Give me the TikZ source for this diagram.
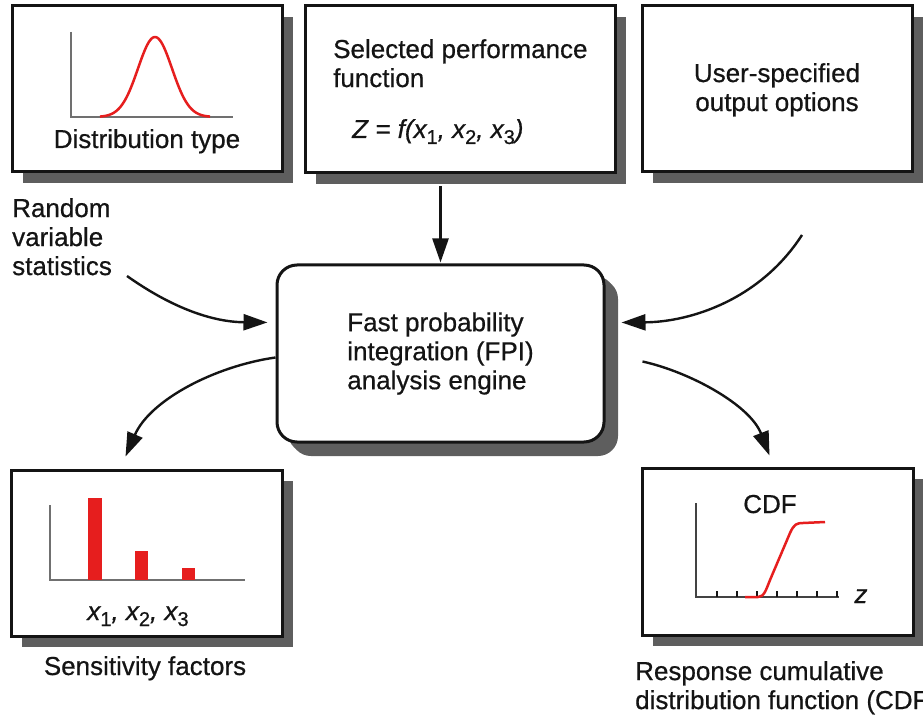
\documentclass[tikz,border=0pt]{standalone}
\usepackage{fontspec}
\setmainfont{Liberation Sans}
\usepackage{xcolor}
\usepackage{tikz}
\usetikzlibrary{shadows,calc,arrows.meta}
\definecolor{panelShadow}{HTML}{5E5E5E}
\definecolor{curveRed}{HTML}{E61E1E}
\definecolor{axisGray}{HTML}{707070}
\definecolor{inkBlack}{HTML}{141414}
\newcommand{\lblsize}{\fontsize{26}{29}\selectfont\addfontfeature{FakeBold=0.6}}
\newcommand{\subdig}[1]{\raisebox{-6pt}{\upshape\fontsize{20}{20}\selectfont #1}}

\begin{document}
\begin{tikzpicture}[x=1pt, y=-1pt,
  panel/.style={draw=inkBlack, fill=white, line width=3pt, rectangle, inner sep=0pt,
    drop shadow={shadow xshift=11pt, shadow yshift=-11pt, fill=panelShadow, opacity=1}},
  lbl/.style={font=\lblsize, text=inkBlack, inner sep=0pt},
  flow/.style={draw=inkBlack, line width=2.4pt, -{Triangle[length=24pt,width=16pt]}},
  axis/.style={draw=axisGray, line width=1.6pt},
]
  \useasboundingbox (0,0) rectangle (923,719);

  \node[panel, minimum width=270pt, minimum height=166pt] (dist) at (147,89) {};
  \node[panel, minimum width=310pt, minimum height=167pt] (perf) at (460,89.5) {};
  \node[panel, minimum width=270pt, minimum height=166pt] (user) at (777,89) {};
  \node[panel, lbl, rounded corners=20pt, minimum width=327pt, minimum height=177pt, align=left,
    drop shadow={shadow xshift=14pt, shadow yshift=-14pt, fill=panelShadow, opacity=1}]
    (engine) at (440.5,353.5) {Fast probability\\integration (FPI)\\analysis engine};
  \node[panel, minimum width=271pt, minimum height=166pt] (sens) at (146.5,553) {};
  \node[panel, minimum width=271pt, minimum height=167pt] (cdf) at (777.5,551.5) {};

  % distribution type
  \draw[axis] (71,32) -- (71,117) -- (233,117);
  \draw[curveRed, line width=2.5pt] plot[domain=100:210, samples=80, smooth]
    (\x, {117-80*exp(-((\x-155)/17)^2/2)});
  \node[lbl, anchor=base] (distlbl) at (147,148) {Distribution type};

  % performance function
  \node[lbl, anchor=north west, align=left] (perflbl) at (333,39) {Selected performance\\function};
  \node[lbl, anchor=base west] (perffn) at (352,138)
    {\itshape Z = f(x\subdig{1}, x\subdig{2}, x\subdig{3})};

  % output options
  \node[lbl, anchor=north, align=center] (userlbl) at (777,63) {User-specified\\output options};

  % sensitivity factors
  \draw[axis] (50,505) -- (50,580) -- (245,580);
  \foreach \bx/\bw/\btop in {88/14/498, 135/13/551, 182/13/568}
    \fill[curveRed] (\bx,\btop) rectangle ++(\bw,580-\btop);
  \node[lbl, anchor=base] (senslbl) at (138,620) {\itshape x\subdig{1}, x\subdig{2}, x\subdig{3}};
  \node[lbl, anchor=base] (sensname) at (145,675) {Sensitivity factors};

  % response CDF
  \draw[draw=inkBlack!80, line width=1.4pt] (696,503) -- (696,597) -- (839,597);
  \foreach \tx in {717,737,...,837}
    \draw[inkBlack, line width=2.4pt] (\tx,597) -- (\tx,591);
  \draw[curveRed, line width=2.5pt, line join=round] (745,597) -- (758,597)
    .. controls (764,597) and (766,590) .. (770,580) -- (790,533)
    .. controls (794,524) and (797,523) .. (803,523) -- (825,522);
  \node[lbl, anchor=base] (cdftitle) at (770,513) {CDF};
  \node[lbl, anchor=base] (zaxis) at (861,603) {\itshape z};
  \node[lbl, anchor=north west, align=left] (cdfname) at (635,661)
    {Response cumulative\\distribution function (CDF)};

  % inputs
  \node[lbl, anchor=north west, align=left] (rvs) at (12,198) {Random\\variable\\statistics};
  \coordinate (rvin) at (127,276);
  \coordinate (uoin) at (802,235);

  \draw[flow, shorten <=12pt, shorten >=1pt] (perf.south -| engine.north) -- (engine.north);
  \draw[flow, shorten >=8pt] (rvin) .. controls (175,310) and (215,322) .. ([yshift=31pt]engine.west);
  \draw[flow] (uoin) .. controls (760,300) and (690,322) .. ([xshift=16pt,yshift=31pt]engine.east);

  % outputs
  \draw[flow] ([yshift=-4pt]engine.west) .. controls (215,366) and (150,400) .. ([xshift=-21pt,yshift=12pt]sens.north);
  \draw[flow] ([xshift=37pt,yshift=-8pt]engine.east) .. controls (690,372) and (750,405) .. ([xshift=-8pt,yshift=11pt]cdf.north);
\end{tikzpicture}
\end{document}
